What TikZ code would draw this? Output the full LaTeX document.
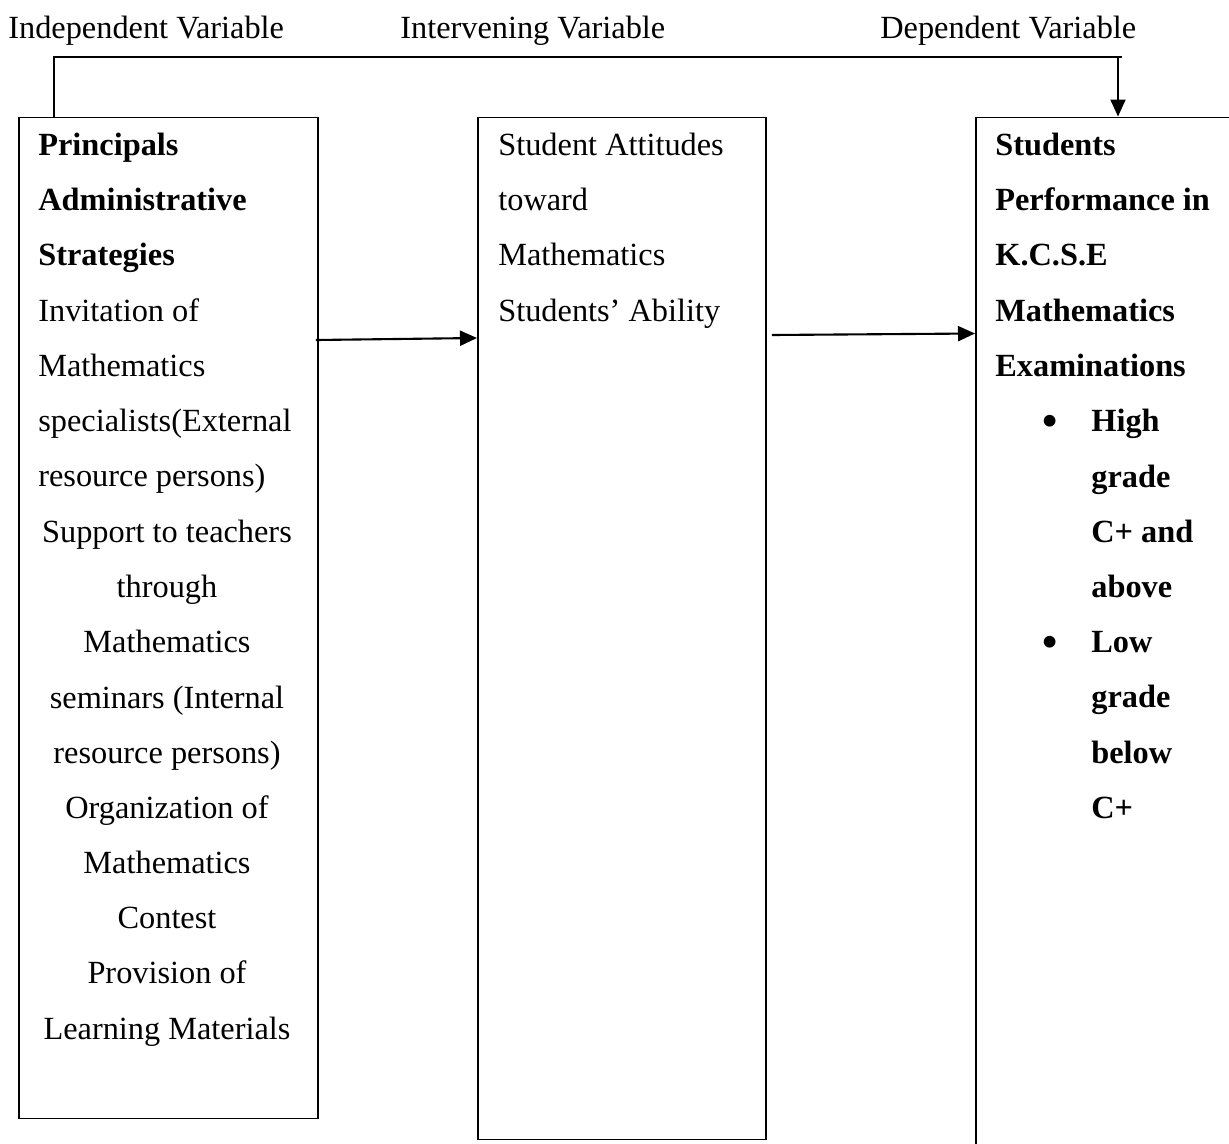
\documentclass[tikz,border=0pt]{standalone}
\usepackage{fontspec}
\setmainfont{Liberation Serif}
\usetikzlibrary{arrows.meta}

\tikzset{
  varbox/.style={draw, line width=1.1pt, inner sep=0pt, anchor=north west},
  lines/.style={inner sep=0pt, font=\fontsize{18.4}{31.4}\selectfont},
  dot/.style={inner sep=0pt, anchor=base, font=\fontsize{28}{31.4}\selectfont},
  link/.style={line width=1.2pt, -{Triangle[length=0.34cm,width=0.3cm]}},
}

\begin{document}
\begin{tikzpicture}
  \useasboundingbox (0,0) rectangle (24.58,-22.88);
  % headings
  \node[lines, anchor=base west] (hind) at (0.16,-0.76) {Independent Variable};
  \node[lines, anchor=base west] (hint) at (8.0,-0.76) {Intervening Variable};
  \node[lines, anchor=base west] (hdep) at (17.6,-0.76) {Dependent Variable};
  % the three boxes
  \node[varbox, minimum width=5.98cm, minimum height=20.02cm] (ind) at (0.36,-2.33) {};
  \node[varbox, minimum width=5.76cm, minimum height=20.44cm] (inter) at (9.54,-2.33) {};
  \node[varbox, minimum width=6.5cm, minimum height=21.2cm] (dep) at (19.5,-2.33) {};
  % independent variable
  \node[lines, anchor=north west, align=left] (indtop) at (0.76,-2.33)
    {\strut\textbf{Principals}\\ \textbf{Administrative}\\ \textbf{Strategies}\\
     Invitation of\\ Mathematics\\ specialists(External\\ resource persons)};
  \node[lines, anchor=north, align=center] (indlow) at (3.34,-10.07)
    {\strut Support to teachers\\ through\\ Mathematics\\ seminars (Internal\\
     resource persons)\\ Organization of\\ Mathematics\\ Contest\\ Provision of\\
     Learning Materials};
  % intervening variable
  \node[lines, anchor=north west, align=left] (intertxt) at (9.96,-2.33)
    {\strut Student Attitudes\\ toward\\ Mathematics\\ Students’ Ability};
  % dependent variable
  \node[lines, anchor=north west, align=left] (deptxt) at (19.9,-2.33)
    {\strut\textbf{Students}\\ \textbf{Performance in}\\ \textbf{K.C.S.E}\\
     \textbf{Mathematics}\\ \textbf{Examinations}};
  \node[lines, anchor=north west, align=left] (grades) at (21.82,-7.86)
    {\strut\textbf{High}\\ \textbf{grade}\\ \textbf{C+ and}\\ \textbf{above}\\
     \textbf{Low}\\ \textbf{grade}\\ \textbf{below}\\ \textbf{C+}};
  \node[dot] (b1) at (21.0,-8.75) {\textbullet};
  \node[dot] (b2) at (21.0,-13.17) {\textbullet};
  % connectors
  \coordinate (tl) at (1.08,-1.14);
  \coordinate (tr) at (22.36,-1.14);
  \draw[line width=1pt] (ind.north -| tl) -- (tl) -- ([xshift=0.08cm]tr);
  \draw[link] (tr) -- (dep.north -| tr);
  \draw[link] ([xshift=-0.06cm,yshift=-4.47cm]ind.north east) -- ([yshift=-4.43cm]inter.north west);
  \draw[link] ([xshift=0.1cm,yshift=-4.37cm]inter.north east) -- ([yshift=-4.34cm]dep.north west);
\end{tikzpicture}
\end{document}
